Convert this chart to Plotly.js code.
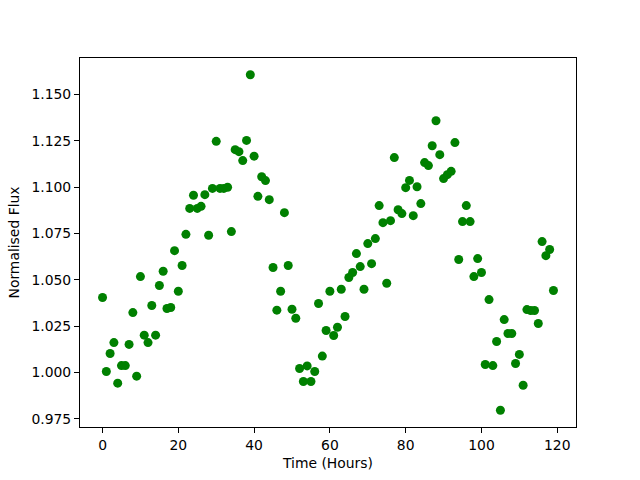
<!DOCTYPE html>
<html>
<head>
<meta charset="utf-8">
<script src="https://cdn.plot.ly/plotly-3.0.1.min.js"></script>
<style>html,body{margin:0;padding:0;background:#fff;}#chart{width:640px;height:480px;}</style>
</head>
<body>
<div id="chart"></div>
<script>
const hours = [];
for (let i = 0; i < 120; i++) hours.push(i);

const flux = [
  1.0404, 1.0005, 1.0102, 1.0161, 0.9942, 1.0037, 1.0037, 1.0151, 1.0323, 0.9980,
  1.0517, 1.0201, 1.0161, 1.0361, 1.0201, 1.0469, 1.0546, 1.0345, 1.0350, 1.0657,
  1.0438, 1.0577, 1.0745, 1.0885, 1.0956, 1.0885, 1.0896, 1.0959, 1.0740, 1.0993,
  1.1247, 1.0993, 1.0993, 1.0999, 1.0760, 1.1202, 1.1191, 1.1143, 1.1252, 1.1606,
  1.1167, 1.0950, 1.1056, 1.1035, 1.0932, 1.0566, 1.0336, 1.0438, 1.0862, 1.0577,
  1.0341, 1.0292, 1.0021, 0.9951, 1.0035, 0.9951, 1.0005, 1.0372, 1.0088, 1.0226,
  1.0438, 1.0199, 1.0244, 1.0449, 1.0302, 1.0512, 1.0539, 1.0641, 1.0571, 1.0449,
  1.0695, 1.0587, 1.0722, 1.0900, 1.0808, 1.0481, 1.0819, 1.1159, 1.0878, 1.0857,
  1.0997, 1.1036, 1.0846, 1.1002, 1.0911, 1.1132, 1.1116, 1.1223, 1.1358, 1.1175,
  1.1046, 1.1067, 1.1085, 1.1240, 1.0609, 1.0814, 1.0900, 1.0814, 1.0517, 1.0614,
  1.0539, 1.0043, 1.0393, 1.0037, 1.0167, 0.9796, 1.0285, 1.0210, 1.0210, 1.0048,
  1.0097, 0.9931, 1.0339, 1.0334, 1.0334, 1.0264, 1.0706, 1.0630, 1.0663, 1.0442
];

const xTicks = [0, 20, 40, 60, 80, 100, 120];
const yTicks = [0.975, 1.000, 1.025, 1.050, 1.075, 1.100, 1.125, 1.150];
const yTickText = ["0.975", "1.000", "1.025", "1.050", "1.075", "1.100", "1.125", "1.150"];

function padRange(arr) {
  const mn = Math.min(...arr), mx = Math.max(...arr);
  const p = (mx - mn) * 0.05;
  return [mn - p, mx + p];
}

const font = {family: "DejaVu Sans", size: 13.9, color: "#000"};
const axisCommon = {
  showgrid: false, zeroline: false, showline: true, mirror: true,
  linecolor: "#000", linewidth: 1, ticks: "outside", ticklen: 5, tickwidth: 1,
  tickcolor: "#000", tickfont: font
};

Plotly.newPlot("chart", [{
  x: hours, y: flux, type: "scatter", mode: "markers",
  marker: {color: "#008000", size: 9}, hoverinfo: "skip"
}], {
  width: 640, height: 480,
  margin: {l: 80, r: 64, t: 58, b: 53, pad: 0},
  paper_bgcolor: "#fff", plot_bgcolor: "#fff",
  showlegend: false,
  font: font,
  xaxis: Object.assign({}, axisCommon, {
    range: padRange(hours), tickvals: xTicks, ticktext: xTicks.map(String),
    title: {text: "Time (Hours)", font: font, standoff: 6}
  }),
  yaxis: Object.assign({}, axisCommon, {
    range: padRange(flux), tickvals: yTicks, ticktext: yTickText,
    title: {text: "Normalised Flux", font: font, standoff: 8}
  })
}, {staticPlot: true});
</script>
</body>
</html>
